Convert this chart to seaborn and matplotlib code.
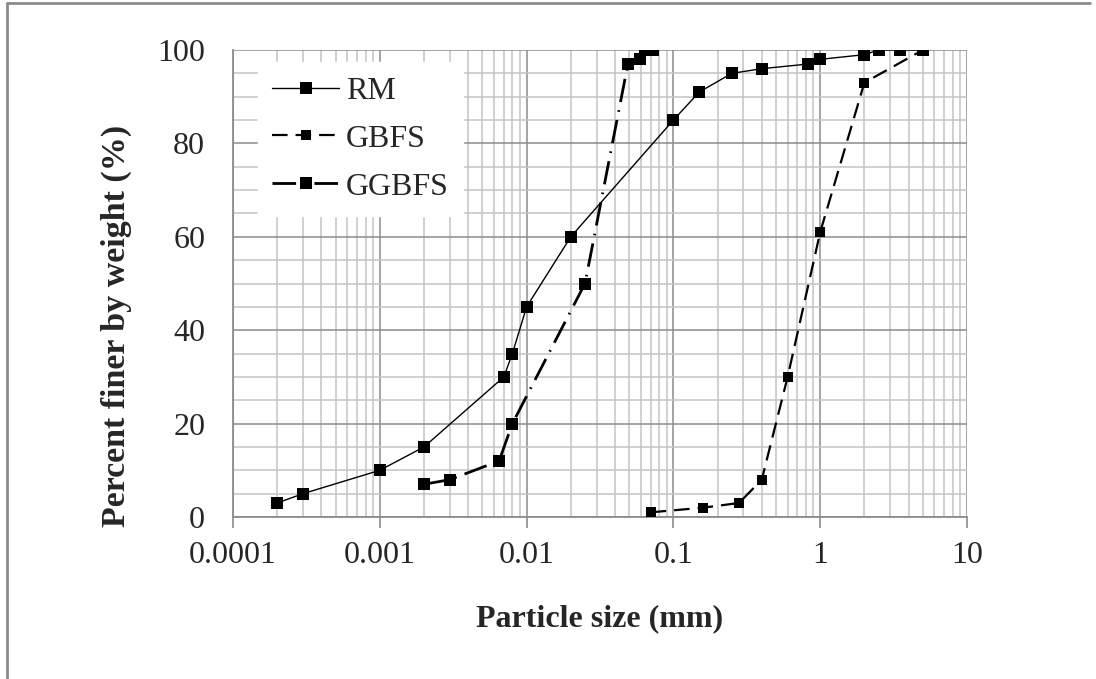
import numpy as np
import pandas as pd
import matplotlib.pyplot as plt
import seaborn as sns
from matplotlib.lines import Line2D
from matplotlib.ticker import LogLocator, MultipleLocator, NullFormatter, FixedLocator, FixedFormatter

# dados
rm_size = [0.0002, 0.0003, 0.001, 0.002, 0.007, 0.008, 0.01, 0.02, 0.1, 0.15,
           0.25, 0.4, 0.83, 1.0, 2.0, 2.5, 3.5, 5.0]
rm_pct = [3, 5, 10, 15, 30, 35, 45, 60, 85, 91, 95, 96, 97, 98, 99, 100, 100, 100]

gbfs_size = [0.07, 0.16, 0.28, 0.4, 0.6, 1.0, 2.0, 5.0]
gbfs_pct = [1, 2, 3, 8, 30, 61, 93, 100]

ggbfs_size = [0.002, 0.003, 0.0065, 0.008, 0.025, 0.049, 0.059, 0.064, 0.073]
ggbfs_pct = [7, 8, 12, 20, 50, 97, 98, 100, 100]

x_ticks = [0.0001, 0.001, 0.01, 0.1, 1, 10]
x_tick_labels = ["0.0001", "0.001", "0.01", "0.1", "1", "10"]
y_ticks = [0, 20, 40, 60, 80, 100]

sns.set_theme(style="white")
plt.rcParams['font.family'] = ['Liberation Serif', 'DejaVu Serif']

fig = plt.figure(figsize=(10.96, 6.79), dpi=100)
ax = fig.add_axes([233 / 1096, 1 - 517 / 679, 734 / 1096, 467 / 679])

# --- curvas ---
sns.lineplot(x=rm_size, y=rm_pct, ax=ax, sort=False, estimator=None, color='black',
             lw=1.0, marker='s', markersize=9, markeredgewidth=0, label='RM', zorder=5)
sns.lineplot(x=gbfs_size, y=gbfs_pct, ax=ax, sort=False, estimator=None, color='black',
             lw=1.6, dashes=(7, 3.6), marker='s', markersize=7, markeredgewidth=0,
             label='GBFS', zorder=5)
sns.lineplot(x=ggbfs_size, y=ggbfs_pct, ax=ax, sort=False, estimator=None, color='black',
             lw=2.0, dashes=(8.5, 3, 0.6, 3), marker='s', markersize=9, markeredgewidth=0,
             label='GGBFS', zorder=5)

ax.set_xscale('log')
ax.set_xlim(0.0001, 10)
ax.set_ylim(0, 100)

ax.xaxis.set_major_locator(FixedLocator(x_ticks))
ax.xaxis.set_major_formatter(FixedFormatter(x_tick_labels))
ax.xaxis.set_minor_locator(LogLocator(base=10, subs=np.arange(2, 10)))
ax.xaxis.set_minor_formatter(NullFormatter())
ax.yaxis.set_major_locator(FixedLocator(y_ticks))
ax.yaxis.set_minor_locator(MultipleLocator(5))

ax.grid(True, which='major', color='#8c8c8c', lw=1.1)
ax.grid(True, which='minor', color='#c4c4c4', lw=1.1)
ax.set_axisbelow(True)

for side in ['top', 'right']:
    ax.spines[side].set_visible(False)
for side in ['left', 'bottom']:
    ax.spines[side].set_color('#8c8c8c')
    ax.spines[side].set_linewidth(1.3)

ax.tick_params(axis='x', which='major', direction='out', length=8, width=1.2,
               color='#8c8c8c', labelsize=23, pad=9, bottom=True)
ax.tick_params(axis='x', which='minor', length=0)
ax.tick_params(axis='y', which='both', length=0, labelsize=23, pad=20)

ax.set_xlabel('Particle size (mm)', fontsize=23, fontweight='bold', labelpad=25)
ax.set_ylabel('Percent finer by weight (%)', fontsize=24.5, fontweight='bold')
ax.yaxis.set_label_coords(-0.138, 0.41)

leg = ax.legend(loc='upper left', bbox_to_anchor=(25 / 734, 1 - 12 / 467),
                borderaxespad=0, fontsize=23, frameon=True, fancybox=False,
                facecolor='white', edgecolor='white', framealpha=1,
                handlelength=2.1, handletextpad=0.2, labelspacing=0.58,
                borderpad=0.45)
leg.set_zorder(10)

# moldura externa
fig.add_artist(Line2D([7 / 1096, 7 / 1096], [0, 1 - 3 / 679], color='#8c8c8c', lw=2))
fig.add_artist(Line2D([7 / 1096, 1090 / 1096], [1 - 3 / 679, 1 - 3 / 679], color='#8c8c8c', lw=2))

plt.savefig('out.png', dpi=100)
